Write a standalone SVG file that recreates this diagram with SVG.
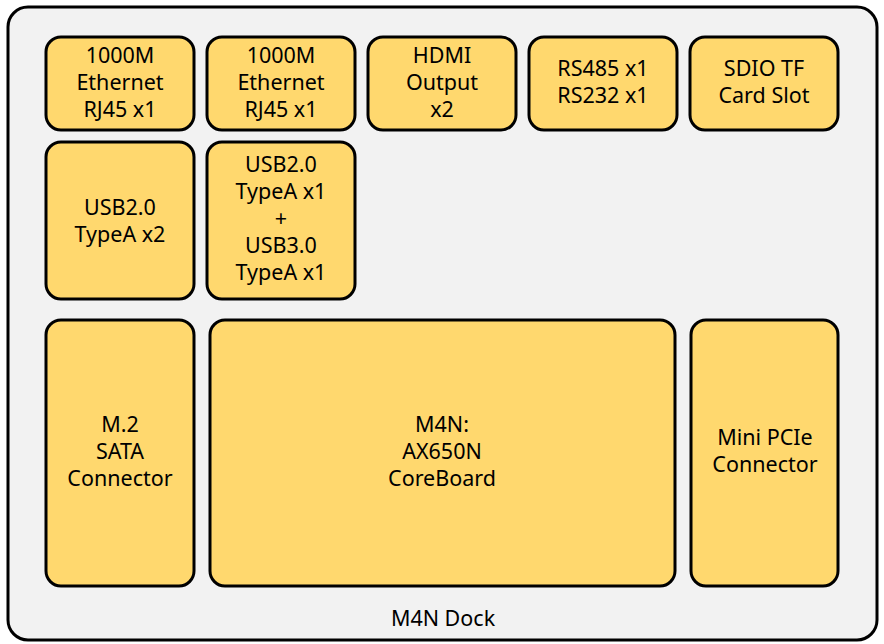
<svg xmlns="http://www.w3.org/2000/svg" width="884" height="644" viewBox="0 0 884 644">
<style>
.box{fill:#FFD86E;stroke:#000;stroke-width:3}
.t{font-family:"Noto Sans","Open Sans","DejaVu Sans",sans-serif;font-size:21.5px;fill:#000;text-anchor:middle}
</style>
<rect width="884" height="644" fill="#fff"/>
<g id="dock">
<rect x="8" y="7" width="869" height="633" rx="20" fill="#F2F2F2" stroke="#000" stroke-width="3"/>
<text class="t" x="443" y="626">M4N Dock</text>
</g>
<g id="eth1"><rect class="box" x="46" y="37" width="148" height="93" rx="15"/>
<text class="t" x="120" y="63">1000M</text><text class="t" x="120" y="90">Ethernet</text><text class="t" x="120" y="117">RJ45 x1</text></g>
<g id="eth2"><rect class="box" x="207" y="37" width="148" height="93" rx="15"/>
<text class="t" x="281" y="63">1000M</text><text class="t" x="281" y="90">Ethernet</text><text class="t" x="281" y="117">RJ45 x1</text></g>
<g id="hdmi"><rect class="box" x="368" y="37" width="148" height="93" rx="15"/>
<text class="t" x="442" y="63">HDMI</text><text class="t" x="442" y="90">Output</text><text class="t" x="442" y="117">x2</text></g>
<g id="rs"><rect class="box" x="529" y="37" width="148" height="93" rx="15"/>
<text class="t" x="603" y="76">RS485 x1</text><text class="t" x="603" y="103">RS232 x1</text></g>
<g id="sdio"><rect class="box" x="690" y="37" width="148" height="93" rx="15"/>
<text class="t" x="764" y="76">SDIO TF</text><text class="t" x="764" y="103">Card Slot</text></g>
<g id="usb2"><rect class="box" x="46" y="142" width="148" height="157" rx="15"/>
<text class="t" x="120" y="215">USB2.0</text><text class="t" x="120" y="242">TypeA x2</text></g>
<g id="usb23"><rect class="box" x="207" y="142" width="148" height="157" rx="15"/>
<text class="t" x="281" y="172">USB2.0</text><text class="t" x="281" y="199">TypeA x1</text><text class="t" x="281" y="226">+</text><text class="t" x="281" y="253">USB3.0</text><text class="t" x="281" y="280">TypeA x1</text></g>
<g id="m2"><rect class="box" x="46" y="320" width="148" height="266" rx="15"/>
<text class="t" x="120" y="432">M.2</text><text class="t" x="120" y="459">SATA</text><text class="t" x="120" y="486">Connector</text></g>
<g id="core"><rect class="box" x="210" y="320" width="465" height="266" rx="15"/>
<text class="t" x="442" y="432">M4N:</text><text class="t" x="442" y="459">AX650N</text><text class="t" x="442" y="486">CoreBoard</text></g>
<g id="pcie"><rect class="box" x="691" y="320" width="147" height="266" rx="15"/>
<text class="t" x="765" y="445">Mini PCIe</text><text class="t" x="765" y="472">Connector</text></g>
<g id="connectors"/>
</svg>
